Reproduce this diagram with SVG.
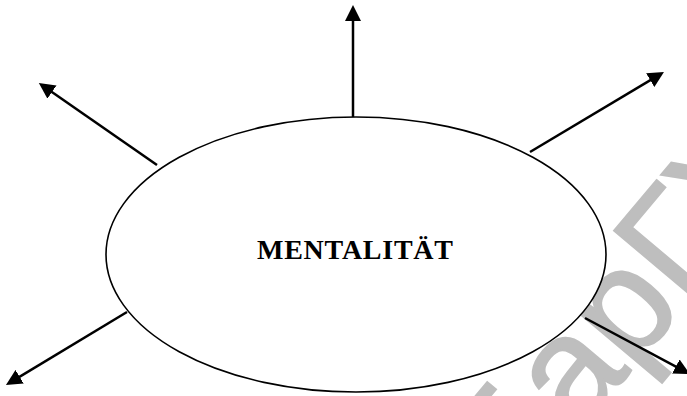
<svg xmlns="http://www.w3.org/2000/svg" width="687" height="396" viewBox="0 0 687 396">
  <style>
    .conn { fill: none; stroke: #000; stroke-width: 2.5; marker-end: url(#head); }
    .node { fill: #fff; stroke: #000; stroke-width: 1.6; }
    .label { font-family: "Liberation Serif", "Times New Roman", serif; font-weight: bold; font-size: 28px; fill: #000; }
    .wm { font-family: "Liberation Sans", Arial, sans-serif; font-size: 150px; fill: #bebebe; stroke: #bebebe; stroke-width: 2; }
  </style>
  <defs>
    <marker id="head" viewBox="0 0 16 16" refX="8" refY="8" markerWidth="16" markerHeight="16" markerUnits="userSpaceOnUse" orient="auto">
      <path d="M0,0 L16,8 L0,16 z" fill="#000"/>
    </marker>
  </defs>
  <rect width="687" height="396" fill="#fff"/>
  <g id="watermark">
    <text class="wm" x="514.8" y="509.8" transform="rotate(-50 514.8 509.8)">БарГУ</text>
  </g>
  <g id="connectors">
    <path class="conn" d="M353,117 L353,13"/>
    <path class="conn" d="M157,165 L45.4,87.5"/>
    <path class="conn" d="M530,152 L657.1,76.1"/>
    <path class="conn" d="M127,312 L12.8,380.9"/>
    <path class="conn" d="M585,318 L682.9,370.3"/>
  </g>
  <g id="mentalitaet">
    <ellipse class="node" cx="356" cy="254.5" rx="250" ry="137.5"/>
    <text class="label" x="355" y="259" text-anchor="middle" textLength="196" lengthAdjust="spacing">MENTALITÄT</text>
  </g>
</svg>
